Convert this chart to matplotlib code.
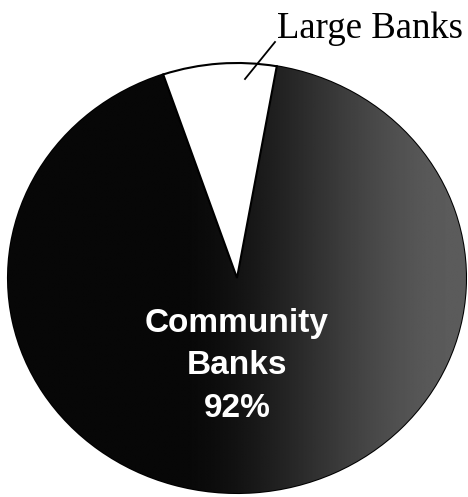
import numpy as np
import matplotlib.pyplot as plt

labels = ['Large Banks', 'Community Banks']
shares = [8, 92]

fig = plt.figure(figsize=(4.68, 4.97), dpi=100)
ax = fig.add_axes([0, 0, 1, 1])

wedges, _ = ax.pie(shares, colors=['white', '#151515'], startangle=80,
                   wedgeprops=dict(edgecolor='black', linewidth=1.5))

# scanned dither look: darker on the left, greyer on the right
xx = np.linspace(-1, 1, 300)
t = np.clip((xx + 0.3) / 1.3, 0, 1)
grad = 0.03 + 0.33 * t * t * (3 - 2 * t)
img = np.tile(grad, (300, 1))
im = ax.imshow(img, extent=(-1, 1, -1, 1), cmap='gray', vmin=0, vmax=1,
               interpolation='bilinear', zorder=1.5)
im.set_clip_path(wedges[1])
wedges[0].set_zorder(2)

ax.set_aspect('auto')
ax.set_xlim(-237 / 229, (468 - 237) / 229)
ax.set_ylim(-(497 - 278) / 215, 278 / 215)
ax.axis('off')

W, H = 468, 497
def fx(px):
    return px / W
def fy(py):
    return 1 - py / H

# leader line + label for the small slice
fig.add_artist(plt.Line2D([fx(275), fx(245)], [fy(42), fy(79)], color='black', lw=1.3))
fig.text(fx(277), fy(38), labels[0], family='Liberation Serif', fontsize=26.5,
         ha='left', va='baseline')

lines = ['Community', 'Banks', '%d%%' % shares[1]]
for s, base in zip(lines, [332, 374, 417]):
    fig.text(fx(237), fy(base), s, family='Liberation Sans', weight='bold',
             fontsize=24, color='white', ha='center', va='baseline')

fig.savefig('out.png', dpi=100)
